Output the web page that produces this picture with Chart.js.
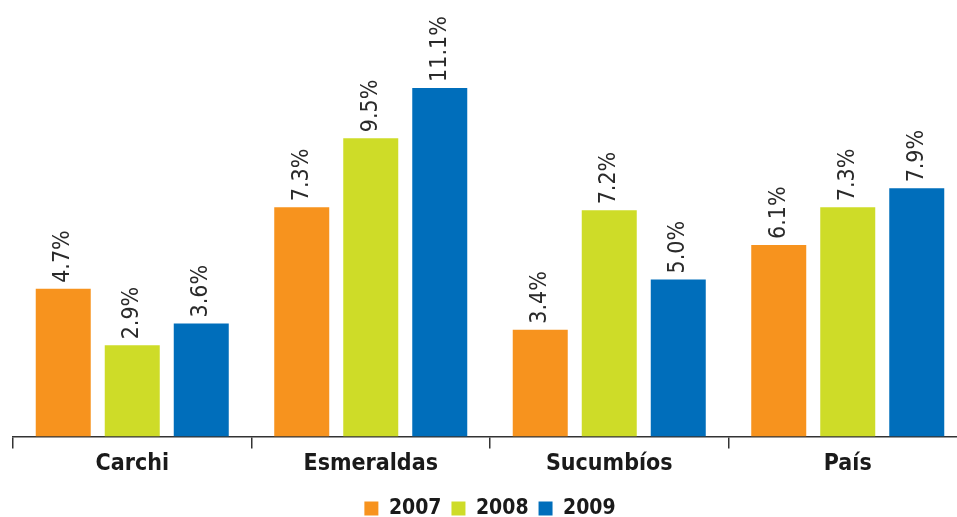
<!DOCTYPE html>
<html>
<head>
<meta charset="utf-8">
<script src="https://cdn.jsdelivr.net/npm/chart.js@4.4.1/dist/chart.umd.min.js"></script>
<style>
  html, body { margin: 0; padding: 0; background: #fff; overflow: hidden; }
  #wrap { position: absolute; left: 0; top: 0; width: 968px; height: 517px; }
</style>
</head>
<body>
<div id="wrap"><canvas id="c" width="968" height="517"></canvas></div>
<script>
const categories = ['Carchi', 'Esmeraldas', 'Sucumbíos', 'País'];
const seriesNames = ['2007', '2008', '2009'];
const values2007 = [4.7, 7.3, 3.4, 6.1];
const values2008 = [2.9, 9.5, 7.2, 7.3];
const values2009 = [3.6, 11.1, 5.0, 7.9];
const colors = ['#F7931E', '#CEDC28', '#006EBB'];

const FONT = "'DejaVu Sans Condensed', 'Liberation Sans Narrow', sans-serif";

const valueLabels = {
  id: 'valueLabels',
  afterDatasetsDraw(chart) {
    const ctx = chart.ctx;
    ctx.save();
    ctx.font = '23px ' + FONT;
    ctx.fillStyle = '#2a2a2a';
    ctx.textAlign = 'left';
    ctx.textBaseline = 'middle';
    chart.data.datasets.forEach((ds, di) => {
      const meta = chart.getDatasetMeta(di);
      meta.data.forEach((bar, i) => {
        const v = ds.data[i];
        ctx.save();
        ctx.translate(bar.x, bar.y - 6);
        ctx.rotate(-Math.PI / 2);
        ctx.fillText(v.toFixed(1) + '%', 0, 0);
        ctx.restore();
      });
    });
    ctx.restore();
  }
};

const data = {
  labels: categories,
  datasets: [values2007, values2008, values2009].map((vals, i) => ({
    label: seriesNames[i],
    data: vals,
    backgroundColor: colors[i],
    borderWidth: 0,
    categoryPercentage: 0.868,
    barPercentage: 0.797
  }))
};

new Chart(document.getElementById('c'), {
  type: 'bar',
  data,
  plugins: [valueLabels],
  options: {
    responsive: false,
    animation: false,
    layout: { padding: { left: 13, right: 1, top: 0, bottom: -12 } },
    plugins: {
      tooltip: { enabled: false },
      legend: {
        display: true,
        position: 'bottom',
        labels: {
          boxWidth: 14,
          boxHeight: 14,
          padding: 10,
          color: '#1a1a1a',
          font: { family: FONT, size: 21, weight: 'bold' }
        }
      }
    },
    scales: {
      x: {
        afterFit(scale) { scale.height += 8; },
        grid: {
          display: true,
          drawOnChartArea: false,
          drawTicks: true,
          tickLength: 12,
          color: '#333',
          lineWidth: 1.5
        },
        border: { display: true, color: '#333', width: 1.5 },
        ticks: {
          color: '#1a1a1a',
          padding: 2,
          font: { family: FONT, size: 23, weight: 'bold' }
        }
      },
      y: {
        display: false,
        min: 0,
        max: 13.9
      }
    }
  }
});
</script>
</body>
</html>
